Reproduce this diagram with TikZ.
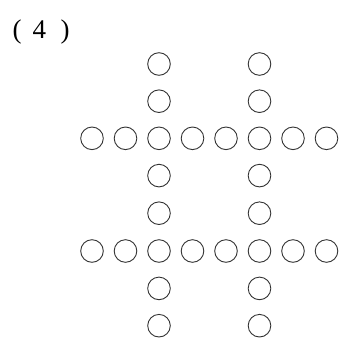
\documentclass[tikz,border=0pt]{standalone}
\usepackage{fontspec}
\newfontfamily\labelfont{Liberation Serif}
\usetikzlibrary{positioning}
\begin{document}
\begin{tikzpicture}[x=1pt,y=-1pt,
  ring/.style={draw=black!80,circle,line width=0.9pt,minimum size=22.6pt,inner sep=0pt}
]
  \useasboundingbox (0,0) rectangle (340,338);
  % Label
  \node[anchor=base west,font=\labelfont\fontsize{27}{31}\selectfont,inner sep=0pt] (label) at (12.5,38)
    {(\hspace{11pt}4\hspace{14.5pt})};
  % Horizontal rows
  \foreach \r/\yy in {a/138.3,b/251}
    \foreach \i in {1,...,8}
      \node[ring] (\r\i) at ({92+33.5*(\i-1)},\yy) {};
  % Vertical columns
  \foreach \c/\xx in {l/159,r/259.5}
    \foreach \j/\yy in {1/64,2/101.2,4/175.6,5/213.2,7/288.4,8/325.7}
      \node[ring] (\c\j) at (\xx,\yy) {};
\end{tikzpicture}
\end{document}
